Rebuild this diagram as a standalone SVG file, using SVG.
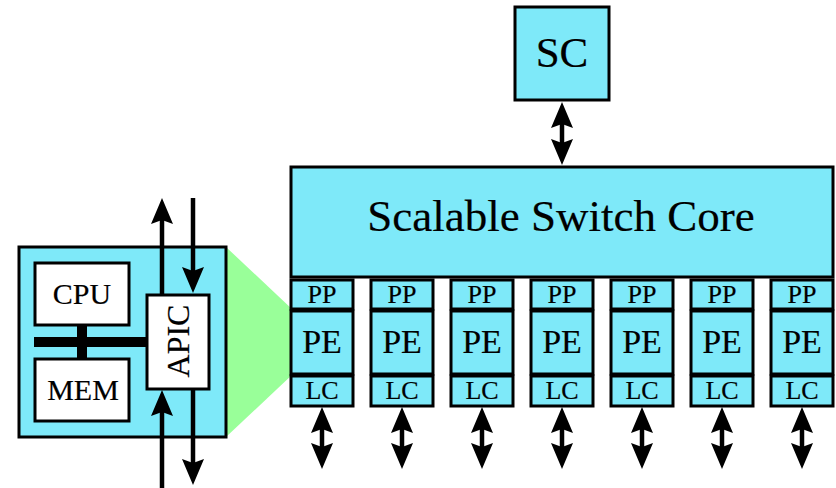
<svg xmlns="http://www.w3.org/2000/svg" width="836" height="488" viewBox="0 0 836 488">
  <style>
    .box { fill: #7ee9f9; stroke: #000; stroke-width: 3; }
    .wbox { fill: #fff; stroke: #000; stroke-width: 3; }
    .t { font-family: "Liberation Serif", "Times New Roman", serif; fill: #000; stroke: #000; stroke-width: 0.2; text-anchor: middle; }
    .link { stroke: #000; stroke-width: 4.5; fill: none; }
  </style>
  <defs>
    <marker id="head" viewBox="0 0 26 22" refX="17" refY="11" markerWidth="26" markerHeight="22" markerUnits="userSpaceOnUse" orient="auto-start-reverse">
      <path d="M0,0 L26,11 L0,22 L4,11 z" fill="#000"/>
    </marker>
  </defs>

  <!-- zoom wedge from the node to a processing element -->
  <polygon points="226,247 293,310 293,374 226,437" fill="#99ff99"/>

  <!-- host node -->
  <g id="node">
    <rect class="box" x="19" y="247" width="207" height="190"/>
    <g id="cpu">
      <rect class="wbox" x="35" y="263" width="94" height="62"/>
      <text class="t" x="82" y="304" font-size="30">CPU</text>
    </g>
    <g id="mem">
      <rect class="wbox" x="35" y="359" width="94" height="62"/>
      <text class="t" x="83" y="400" font-size="30">MEM</text>
    </g>
    <g id="bus">
      <rect x="34" y="337" width="114" height="10" fill="#000"/>
      <rect x="77" y="325" width="10" height="34" fill="#000"/>
    </g>
    <g id="apic">
      <rect class="wbox" x="147" y="295" width="62" height="94"/>
      <text class="t" font-size="32" transform="translate(189,341) rotate(-90)">APIC</text>
    </g>
  </g>

  <!-- system controller -->
  <g id="sc">
    <rect class="box" x="515" y="7" width="94" height="93"/>
    <text class="t" x="562" y="67" font-size="43">SC</text>
  </g>

  <!-- switch core -->
  <g id="core">
    <rect class="box" x="291" y="167" width="542" height="110"/>
    <text class="t" x="561" y="231" font-size="45">Scalable Switch Core</text>
  </g>

  <!-- ports: PP / PE / LC stacks -->
  <g id="port1">
    <rect class="box" x="291" y="280" width="62" height="29"/>
    <rect class="box" x="291" y="311" width="62" height="63"/>
    <rect class="box" x="291" y="376" width="62" height="30"/>
    <text class="t" x="322" y="303" font-size="26">PP</text>
    <text class="t" x="322" y="353" font-size="34">PE</text>
    <text class="t" x="322" y="399" font-size="26">LC</text>
  </g>
  <g id="port2">
    <rect class="box" x="371" y="280" width="62" height="29"/>
    <rect class="box" x="371" y="311" width="62" height="63"/>
    <rect class="box" x="371" y="376" width="62" height="30"/>
    <text class="t" x="402" y="303" font-size="26">PP</text>
    <text class="t" x="402" y="353" font-size="34">PE</text>
    <text class="t" x="402" y="399" font-size="26">LC</text>
  </g>
  <g id="port3">
    <rect class="box" x="451" y="280" width="62" height="29"/>
    <rect class="box" x="451" y="311" width="62" height="63"/>
    <rect class="box" x="451" y="376" width="62" height="30"/>
    <text class="t" x="482" y="303" font-size="26">PP</text>
    <text class="t" x="482" y="353" font-size="34">PE</text>
    <text class="t" x="482" y="399" font-size="26">LC</text>
  </g>
  <g id="port4">
    <rect class="box" x="531" y="280" width="62" height="29"/>
    <rect class="box" x="531" y="311" width="62" height="63"/>
    <rect class="box" x="531" y="376" width="62" height="30"/>
    <text class="t" x="562" y="303" font-size="26">PP</text>
    <text class="t" x="562" y="353" font-size="34">PE</text>
    <text class="t" x="562" y="399" font-size="26">LC</text>
  </g>
  <g id="port5">
    <rect class="box" x="611" y="280" width="62" height="29"/>
    <rect class="box" x="611" y="311" width="62" height="63"/>
    <rect class="box" x="611" y="376" width="62" height="30"/>
    <text class="t" x="642" y="303" font-size="26">PP</text>
    <text class="t" x="642" y="353" font-size="34">PE</text>
    <text class="t" x="642" y="399" font-size="26">LC</text>
  </g>
  <g id="port6">
    <rect class="box" x="691" y="280" width="62" height="29"/>
    <rect class="box" x="691" y="311" width="62" height="63"/>
    <rect class="box" x="691" y="376" width="62" height="30"/>
    <text class="t" x="722" y="303" font-size="26">PP</text>
    <text class="t" x="722" y="353" font-size="34">PE</text>
    <text class="t" x="722" y="399" font-size="26">LC</text>
  </g>
  <g id="port7">
    <rect class="box" x="771" y="280" width="62" height="29"/>
    <rect class="box" x="771" y="311" width="62" height="63"/>
    <rect class="box" x="771" y="376" width="62" height="30"/>
    <text class="t" x="802" y="303" font-size="26">PP</text>
    <text class="t" x="802" y="353" font-size="34">PE</text>
    <text class="t" x="802" y="399" font-size="26">LC</text>
  </g>

  <!-- connectors -->
  <g id="connectors">
    <!-- APIC links -->
    <line class="link" x1="162" y1="295" x2="162" y2="207" marker-end="url(#head)"/>
    <line class="link" x1="193" y1="198" x2="193" y2="284" marker-end="url(#head)"/>
    <line class="link" x1="162" y1="490" x2="162" y2="399" marker-end="url(#head)"/>
    <line class="link" x1="193" y1="389" x2="193" y2="476" marker-end="url(#head)"/>
    <!-- SC to core -->
    <line class="link" x1="562" y1="111" x2="562" y2="156" marker-start="url(#head)" marker-end="url(#head)"/>
    <!-- line card links -->
    <line class="link" x1="322" y1="416" x2="322" y2="460" marker-start="url(#head)" marker-end="url(#head)"/>
    <line class="link" x1="402" y1="416" x2="402" y2="460" marker-start="url(#head)" marker-end="url(#head)"/>
    <line class="link" x1="482" y1="416" x2="482" y2="460" marker-start="url(#head)" marker-end="url(#head)"/>
    <line class="link" x1="562" y1="416" x2="562" y2="460" marker-start="url(#head)" marker-end="url(#head)"/>
    <line class="link" x1="642" y1="416" x2="642" y2="460" marker-start="url(#head)" marker-end="url(#head)"/>
    <line class="link" x1="722" y1="416" x2="722" y2="460" marker-start="url(#head)" marker-end="url(#head)"/>
    <line class="link" x1="802" y1="416" x2="802" y2="460" marker-start="url(#head)" marker-end="url(#head)"/>
  </g>
</svg>
